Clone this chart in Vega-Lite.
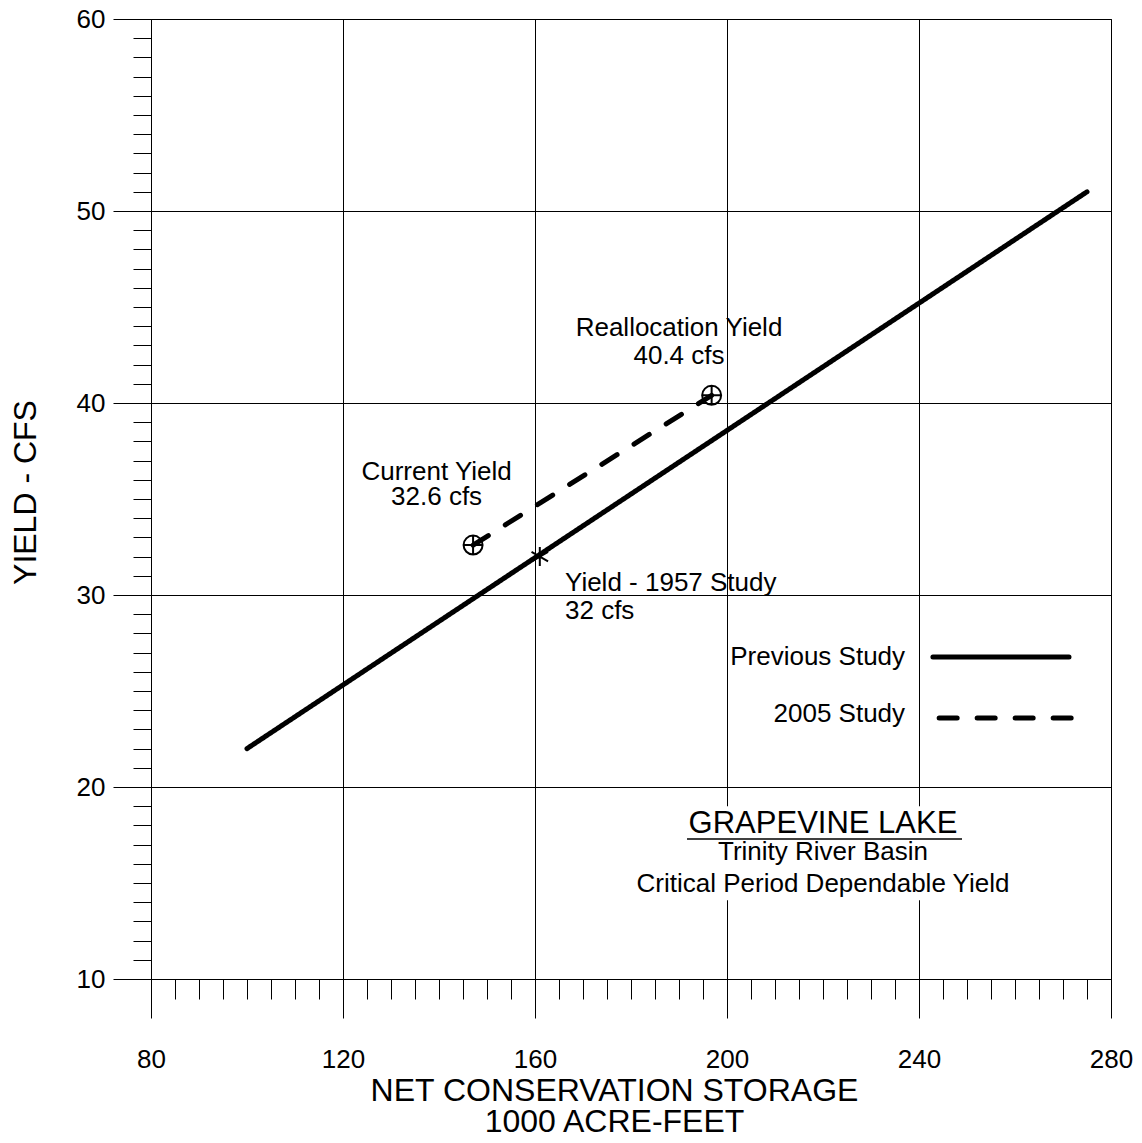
{
  "$schema": "https://vega.github.io/schema/vega-lite/v6.json",
  "width": 960,
  "height": 960,
  "autosize": {"type": "none"},
  "padding": {"left": 151, "top": 19, "right": 31, "bottom": 164},
  "background": "white",
  "config": {
    "font": "Liberation Sans",
    "view": {"stroke": "black", "strokeWidth": 1},
    "text": {"font": "Liberation Sans", "color": "black", "fontSize": 26}
  },
  "datasets": {
    "curves": [
      {"study": "Previous Study", "x": 100, "y": 22},
      {"study": "Previous Study", "x": 275, "y": 51},
      {"study": "2005 Study", "x": 147.1, "y": 32.6},
      {"study": "2005 Study", "x": 196.8, "y": 40.4}
    ],
    "keys": [
      {"study": "Previous Study", "x": 242.9, "y": 26.77},
      {"study": "Previous Study", "x": 271.25, "y": 26.77},
      {"study": "2005 Study", "x": 244.2, "y": 23.6},
      {"study": "2005 Study", "x": 271.7, "y": 23.6}
    ],
    "points": [
      {"kind": "Current Yield", "x": 147.1, "y": 32.6},
      {"kind": "Reallocation Yield", "x": 196.8, "y": 40.4},
      {"kind": "Yield - 1957 Study", "x": 161, "y": 32}
    ],
    "notes_center": [
      {"x": 139.5, "y": 36.43, "text": "Current Yield"},
      {"x": 139.5, "y": 35.08, "text": "32.6 cfs"},
      {"x": 190, "y": 43.9, "text": "Reallocation Yield"},
      {"x": 190, "y": 42.45, "text": "40.4 cfs"}
    ],
    "notes_left": [
      {"x": 166.25, "y": 30.65, "text": "Yield - 1957 Study"},
      {"x": 166.25, "y": 29.17, "text": "32 cfs"}
    ],
    "key_labels": [
      {"x": 237.1, "y": 26.77, "text": "Previous Study"},
      {"x": 237.1, "y": 23.8, "text": "2005 Study"}
    ],
    "heading": [
      {"x": 220, "y": 18.05, "text": "GRAPEVINE LAKE"}
    ],
    "heading_rule": [
      {"x": 191.67, "x2": 248.96, "y": 17.29}
    ],
    "subheading": [
      {"x": 220, "y": 16.59, "text": "Trinity River Basin"},
      {"x": 220, "y": 14.95, "text": "Critical Period Dependable Yield"}
    ],
    "heading_box": [
      {"x": 180.2, "x2": 260.2, "y": 19.0, "y2": 14.1}
    ]
  },
  "encoding": {
    "x": {
      "field": "x",
      "type": "quantitative",
      "scale": {"domain": [80, 280], "nice": false, "zero": false},
      "axis": {
        "values": [80, 85, 90, 95, 100, 105, 110, 115, 120, 125, 130, 135, 140, 145, 150, 155, 160, 165, 170, 175, 180, 185, 190, 195, 200, 205, 210, 215, 220, 225, 230, 235, 240, 245, 250, 255, 260, 265, 270, 275, 280],
        "grid": true,
        "gridColor": "black",
        "gridWidth": 1,
        "gridOpacity": {"condition": {"test": "datum.value % 40 === 0", "value": 1}, "value": 0},
        "tickSize": {"condition": {"test": "datum.value % 40 === 0", "value": 39}, "value": 20},
        "tickColor": "black",
        "tickWidth": 1,
        "domainColor": "black",
        "labelExpr": "datum.value % 40 === 0 ? datum.label : ''",
        "labelFont": "Liberation Sans",
        "labelFontSize": 26,
        "labelColor": "black",
        "labelPadding": 28,
        "labelFlush": false,
        "labelOverlap": false,
        "title": ["NET CONSERVATION STORAGE", "1000 ACRE-FEET"],
        "titleFont": "Liberation Sans",
        "titleFontSize": 32,
        "titleFontWeight": "normal",
        "titleColor": "black",
        "titleLineHeight": 31,
        "titleBaseline": "top",
        "titleAlign": "center",
        "titleX": 463,
        "titleY": 96
      }
    },
    "y": {
      "field": "y",
      "type": "quantitative",
      "scale": {"domain": [10, 60], "nice": false, "zero": false},
      "axis": {
        "values": [10, 11, 12, 13, 14, 15, 16, 17, 18, 19, 20, 21, 22, 23, 24, 25, 26, 27, 28, 29, 30, 31, 32, 33, 34, 35, 36, 37, 38, 39, 40, 41, 42, 43, 44, 45, 46, 47, 48, 49, 50, 51, 52, 53, 54, 55, 56, 57, 58, 59, 60],
        "grid": true,
        "gridColor": "black",
        "gridWidth": 1,
        "gridOpacity": {"condition": {"test": "datum.value % 10 === 0", "value": 1}, "value": 0},
        "tickSize": {"condition": {"test": "datum.value % 10 === 0", "value": 38}, "value": 18},
        "tickColor": "black",
        "tickWidth": 1,
        "domainColor": "black",
        "labelExpr": "datum.value % 10 === 0 ? datum.label : ''",
        "labelFont": "Liberation Sans",
        "labelFontSize": 26,
        "labelColor": "black",
        "labelPadding": 8,
        "labelFlush": false,
        "labelOverlap": false,
        "title": "YIELD - CFS",
        "titleFont": "Liberation Sans",
        "titleFontSize": 32,
        "titleFontWeight": "normal",
        "titleColor": "black",
        "titleAngle": -90,
        "titleBaseline": "middle",
        "titleAlign": "center",
        "titleX": -126,
        "titleY": 473
      }
    }
  },
  "layer": [
    {
      "data": {"name": "heading_box"},
      "mark": {"type": "rect", "fill": "white", "stroke": null},
      "encoding": {
        "x2": {"field": "x2"},
        "y2": {"field": "y2"}
      }
    },
    {
      "data": {"name": "curves"},
      "mark": {"type": "line", "color": "black", "strokeWidth": 5, "strokeCap": "round"},
      "encoding": {
        "strokeDash": {
          "field": "study",
          "type": "nominal",
          "scale": {"domain": ["Previous Study", "2005 Study"], "range": [[1, 0], [18, 20]]},
          "legend": null
        }
      }
    },
    {
      "data": {"name": "keys"},
      "mark": {"type": "line", "color": "black", "strokeWidth": 5, "strokeCap": "round"},
      "encoding": {
        "strokeDash": {
          "field": "study",
          "type": "nominal",
          "scale": {"domain": ["Previous Study", "2005 Study"], "range": [[1, 0], [18, 20]]},
          "legend": null
        }
      }
    },
    {
      "data": {"name": "points"},
      "mark": {"type": "point", "filled": false, "color": "black", "strokeWidth": 2, "opacity": 1},
      "encoding": {
        "shape": {
          "field": "kind",
          "type": "nominal",
          "scale": {
            "domain": ["Current Yield", "Reallocation Yield", "Yield - 1957 Study"],
            "range": [
              "M-1,0A1,1,0,1,0,1,0A1,1,0,1,0,-1,0ZM-1,0L1,0M0,-1L0,1",
              "M-1,0A1,1,0,1,0,1,0A1,1,0,1,0,-1,0ZM-1,0L1,0M0,-1L0,1",
              "M0,-1L0,1M-0.87,-0.5L0.87,0.5M-0.87,0.5L0.87,-0.5"
            ]
          },
          "legend": null
        },
        "size": {
          "field": "kind",
          "type": "nominal",
          "scale": {
            "domain": ["Current Yield", "Reallocation Yield", "Yield - 1957 Study"],
            "range": [361, 361, 484]
          },
          "legend": null
        }
      }
    },
    {
      "data": {"name": "notes_center"},
      "mark": {"type": "text", "align": "center", "baseline": "middle"},
      "encoding": {"text": {"field": "text"}}
    },
    {
      "data": {"name": "notes_left"},
      "mark": {"type": "text", "align": "left", "baseline": "middle"},
      "encoding": {"text": {"field": "text"}}
    },
    {
      "data": {"name": "key_labels"},
      "mark": {"type": "text", "align": "right", "baseline": "middle"},
      "encoding": {"text": {"field": "text"}}
    },
    {
      "data": {"name": "heading"},
      "mark": {"type": "text", "align": "center", "baseline": "middle", "fontSize": 31},
      "encoding": {"text": {"field": "text"}}
    },
    {
      "data": {"name": "heading_rule"},
      "mark": {"type": "rule", "color": "black", "strokeWidth": 1.5},
      "encoding": {"x2": {"field": "x2"}}
    },
    {
      "data": {"name": "subheading"},
      "mark": {"type": "text", "align": "center", "baseline": "middle"},
      "encoding": {"text": {"field": "text"}}
    }
  ]
}
